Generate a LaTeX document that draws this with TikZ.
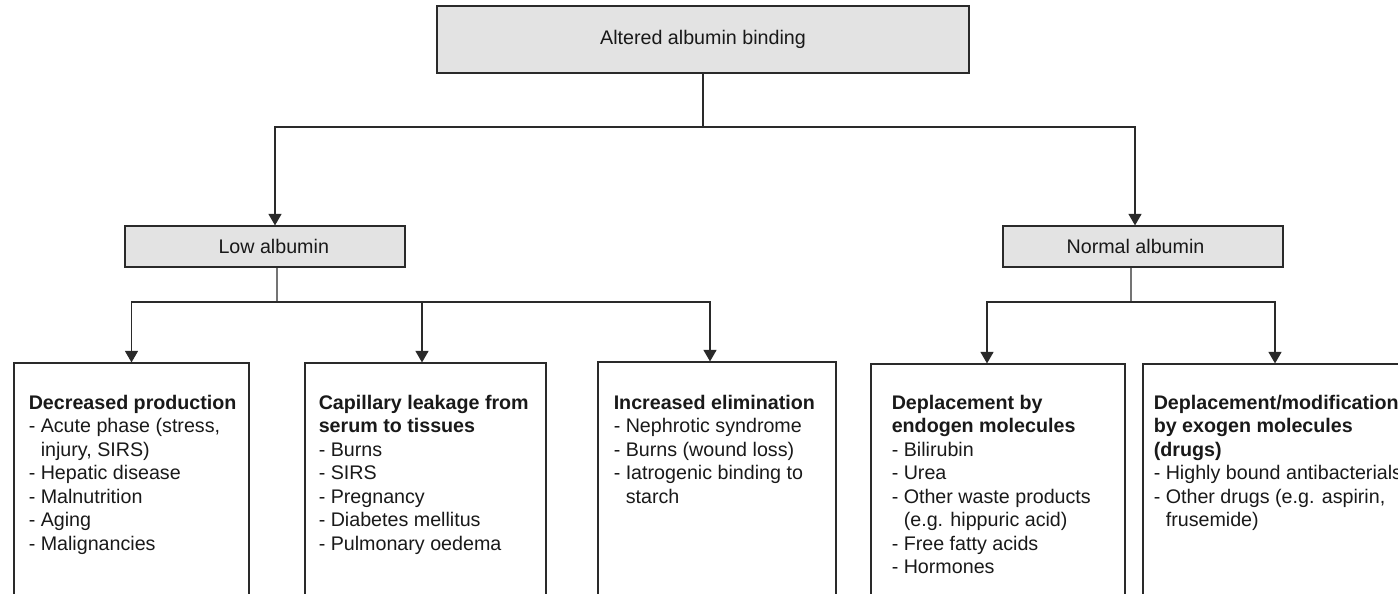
\documentclass[tikz,border=0pt]{standalone}
\usepackage{fontspec}
\setmainfont{Liberation Sans}
\usepackage{tikz}
\usetikzlibrary{calc,arrows.meta}
\definecolor{boxgrey}{HTML}{E3E3E3}
\definecolor{linegrey}{HTML}{2A2A2A}
\begin{document}
\begin{tikzpicture}[x=0.02cm,y=-0.02cm]
                      \tikzstyle{head}=[rectangle,draw=linegrey,line width=0.7pt,fill=boxgrey,inner sep=0pt,text=black!90]
                      \tikzstyle{box}=[rectangle,draw=linegrey,line width=0.7pt,inner sep=0pt,minimum height=5.14cm]
                      \tikzstyle{txt}=[anchor=north west,align=left,inner sep=0pt,text=black!90]
                      \tikzstyle{arr}=[draw=linegrey,line width=0.7pt,-{Triangle[width=2.6mm,length=2.3mm]}]
                      \useasboundingbox (0,0) rectangle (1398,593);
                      \clip (0,0) rectangle (1398,593);
                      \tikzset{every node/.style={font=\fontsize{11.2pt}{13.4pt}\selectfont}}
                      \node[head,minimum width=10.64cm,minimum height=1.34cm] (top) at (703,39.5) {Altered albumin binding};
                      \node[head,minimum width=5.6cm,minimum height=0.82cm] (low) at (265,246.5) {\hspace*{0.35cm}Low albumin};
                      \node[head,minimum width=5.6cm,minimum height=0.82cm] (norm) at (1143,246.5) {Normal albumin\hspace*{0.3cm}};
                      \node[box,minimum width=4.7cm] (b1) at (131.5,491.5) {};
                      \node[box,minimum width=4.82cm] (b2) at (425.5,491.5) {};
                      \node[box,minimum width=4.76cm] (b3) at (717,490.5) {};
                      \node[box,minimum width=5.08cm] (b4) at (998,492.5) {};
                      \node[box,minimum width=5.4cm] (b5) at (1278,492.5) {};
                      % texts of the lower boxes
                      \node[txt] (t1) at ([xshift=0.3cm,yshift=-0.64cm]b1.north west) {\textbf{Decreased production}\\- Acute phase (stress,\\\hphantom{- }injury, SIRS)\\- Hepatic disease\\- Malnutrition\\- Aging\\- Malignancies};
                      \node[txt] (t2) at ([xshift=0.28cm,yshift=-0.64cm]b2.north west) {\textbf{Capillary leakage from}\\\textbf{serum to tissues}\\- Burns\\- SIRS\\- Pregnancy\\- Diabetes mellitus\\- Pulmonary oedema};
                      \node[txt] (t3) at ([xshift=0.32cm,yshift=-0.66cm]b3.north west) {\textbf{Increased elimination}\\- Nephrotic syndrome\\- Burns (wound loss)\\- Iatrogenic binding to\\\hphantom{- }starch};
                      \node[txt] (t4) at ([xshift=0.42cm,yshift=-0.62cm]b4.north west) {\textbf{Deplacement by}\\\textbf{endogen molecules}\\- Bilirubin\\- Urea\\- Other waste products\\\hphantom{- }(e.g. hippuric acid)\\- Free fatty acids\\- Hormones};
                      \node[txt] (t5) at ([xshift=0.22cm,yshift=-0.62cm]b5.north west) {\textbf{Deplacement/modification}\\\textbf{by exogen molecules}\\\textbf{(drugs)}\\- Highly bound antibacterials\\- Other drugs (e.g. aspirin,\\\hphantom{- }frusemide)};
                      % connectors
                      \coordinate (j0) at (703,127);
                      \coordinate (j1) at (277,302);
                      \coordinate (j2) at (1131,302);
                      \draw[draw=linegrey,line width=0.7pt] (top.south) -- (j0);
                      \draw[arr] (j0) -| ([xshift=0.2cm]low.north);
                      \draw[arr] (j0) -| ([xshift=-0.16cm]norm.north);
                      \draw[draw=linegrey,line width=0.7pt] ([xshift=0.24cm]low.south) -- (j1);
                      \draw[arr] (j1) -| (b1.north);
                      \draw[arr] (j1) -| ([xshift=-0.07cm]b2.north);
                      \draw[arr] (j1) -| ([xshift=-0.14cm]b3.north);
                      \draw[draw=linegrey,line width=0.7pt] ([xshift=-0.24cm]norm.south) -- (j2);
                      \draw[arr] (j2) -| ([xshift=-0.22cm]b4.north);
                      \draw[arr] (j2) -| ([xshift=-0.06cm]b5.north);
                  \end{tikzpicture}
\end{document}
